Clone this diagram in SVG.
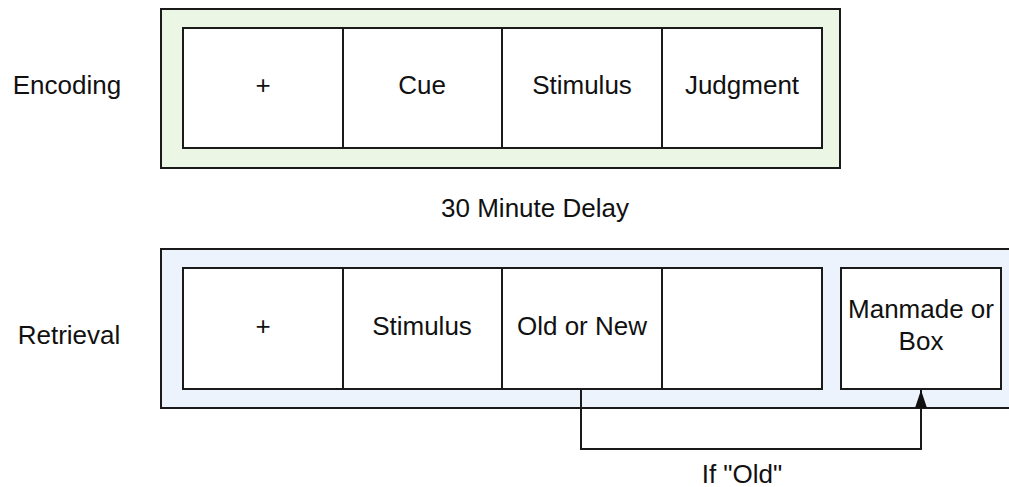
<svg xmlns="http://www.w3.org/2000/svg" width="1009" height="487" viewBox="0 0 1009 487">
  <style>
    text { font-family: "Liberation Sans", Arial, sans-serif; font-size: 26px; fill: #111; }
    .mid { text-anchor: middle; }
    .frame { stroke: #1a1a1a; stroke-width: 2; }
    .cell { fill: #ffffff; stroke: #1a1a1a; stroke-width: 2; }
    .link { fill: none; stroke: #1a1a1a; stroke-width: 2; }
  </style>
  <defs>
    <marker id="arrow" viewBox="0 0 18 12" refX="18" refY="6" markerWidth="18" markerHeight="12" markerUnits="userSpaceOnUse" orient="auto">
      <path d="M0,0 L18,6 L0,12 Z" fill="#111"/>
    </marker>
  </defs>
  <rect width="1009" height="487" fill="#ffffff"/>

  <!-- Encoding phase -->
  <g id="encoding-label"><text x="67" y="94" class="mid">Encoding</text></g>
  <g id="encoding">
    <rect class="frame" x="161" y="9" width="679" height="159" fill="#ecf6e4"/>
    <g id="enc-fixation"><rect class="cell" x="183" y="28" width="160" height="120"/><text x="263" y="94" class="mid">+</text></g>
    <g id="enc-cue"><rect class="cell" x="343" y="28" width="159" height="120"/><text x="422" y="94" class="mid">Cue</text></g>
    <g id="enc-stimulus"><rect class="cell" x="502" y="28" width="160" height="120"/><text x="582" y="94" class="mid">Stimulus</text></g>
    <g id="enc-judgment"><rect class="cell" x="662" y="28" width="160" height="120"/><text x="742" y="94" class="mid">Judgment</text></g>
  </g>

  <g id="delay"><text x="535" y="217" class="mid">30 Minute Delay</text></g>

  <!-- Retrieval phase -->
  <g id="retrieval-label"><text x="69" y="344" class="mid">Retrieval</text></g>
  <g id="retrieval">
    <rect class="frame" x="161" y="249" width="860" height="159" fill="#ecf3fc"/>
    <g id="ret-fixation"><rect class="cell" x="183" y="268" width="160" height="121"/><text x="263" y="335" class="mid">+</text></g>
    <g id="ret-stimulus"><rect class="cell" x="343" y="268" width="159" height="121"/><text x="422" y="335" class="mid">Stimulus</text></g>
    <g id="ret-oldnew"><rect class="cell" x="502" y="268" width="160" height="121"/><text x="582" y="335" class="mid">Old or New</text></g>
    <g id="ret-blank"><rect class="cell" x="662" y="268" width="160" height="121"/></g>
    <g id="ret-manmade"><rect class="cell" x="841" y="268" width="160" height="121"/>
      <text x="921" y="318" class="mid">Manmade or</text>
      <text x="921" y="350" class="mid">Box</text>
    </g>
  </g>

  <!-- Connectors -->
  <g id="connectors">
    <path class="link" d="M581,389 L581,449 L921,449 L921,390" marker-end="url(#arrow)"/>
    <text x="742" y="483" class="mid">If "Old"</text>
  </g>
</svg>
